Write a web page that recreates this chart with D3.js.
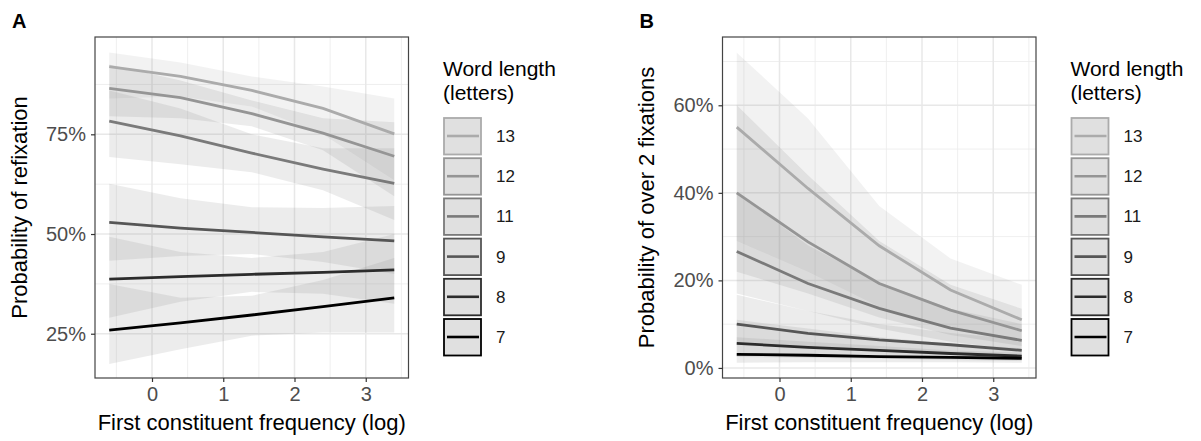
<!DOCTYPE html>
<html>
<head>
<meta charset="utf-8">
<script src="https://cdn.jsdelivr.net/npm/d3@7"></script>
<style>
  body { margin: 0; background: #fff; }
  svg text { font-family: "Liberation Sans", Arial, sans-serif; }
</style>
</head>
<body>
<div id="chart"></div>
<script>
// predicted values at five frequency points, one array per word length
const xPoints = [-0.6, 0.4, 1.4, 2.4, 3.4]
const lengths = ["13", "12", "11", "9", "8", "7"]
const lineColors = ["#ababab", "#959595", "#7a7a7a", "#565656", "#2c2c2c", "#000000"]

// panel A: probability of refixation (%)
const fitA13 = [92.0, 89.5, 86.0, 81.5, 75.1]
const fitA12 = [86.5, 84.2, 80.2, 75.3, 69.5]
const fitA11 = [78.3, 74.6, 70.3, 66.3, 62.7]
const fitA9  = [52.9, 51.5, 50.4, 49.3, 48.3]
const fitA8  = [38.7, 39.3, 39.9, 40.4, 41.0]
const fitA7  = [25.9, 27.7, 29.7, 31.8, 34.0]
const loA13 = [84.0, 84.5, 82.0, 75.0, 63.5], hiA13 = [95.5, 93.0, 89.5, 87.0, 84.0]
const loA12 = [79.5, 79.0, 77.0, 71.0, 59.5], hiA12 = [92.5, 88.5, 83.5, 79.0, 78.0]
const loA11 = [69.3, 67.5, 65.5, 61.0, 53.5], hiA11 = [86.0, 81.5, 75.0, 71.5, 71.5]
const loA9  = [43.3, 44.5, 45.0, 43.0, 40.0], hiA9  = [62.6, 59.0, 56.7, 56.5, 57.0]
const loA8  = [29.0, 33.0, 35.5, 35.0, 32.5], hiA8  = [49.3, 45.5, 44.0, 45.5, 50.0]
const loA7  = [17.4, 21.1, 24.5, 25.3, 25.3], hiA7  = [37.5, 34.0, 34.5, 38.5, 44.0]

// panel B: probability of over 2 fixations (%)
const fitB13 = [55.0, 41.0, 27.9, 17.8, 11.0]
const fitB12 = [40.0, 28.8, 19.3, 13.2, 8.5]
const fitB11 = [26.6, 19.3, 13.6, 9.1, 6.3]
const fitB9  = [10.0, 7.9, 6.4, 5.3, 4.0]
const fitB8  = [5.6, 4.7, 4.0, 3.3, 2.7]
const fitB7  = [3.1, 2.9, 2.6, 2.4, 2.2]
const loB13 = [29.0, 22.0, 14.0, 9.0, 6.0], hiB13 = [72.0, 57.0, 37.0, 25.0, 19.0]
const loB12 = [22.0, 17.0, 11.5, 7.5, 5.0], hiB12 = [60.0, 44.0, 29.0, 19.0, 13.5]
const loB11 = [17.0, 13.0, 9.0, 6.0, 4.0], hiB11 = [40.0, 28.0, 19.5, 13.5, 10.0]
const loB9  = [5.5, 4.5, 4.0, 3.2, 2.5], hiB9  = [16.7, 13.0, 10.0, 8.0, 6.5]
const loB8  = [2.5, 2.3, 2.1, 1.8, 1.6], hiB8  = [11.0, 9.0, 7.0, 5.5, 4.5]
const loB7  = [1.2, 1.3, 1.3, 1.3, 1.2], hiB7  = [7.0, 6.0, 5.0, 4.0, 3.5]

const xTicks = [0, 1, 2, 3]
const xMinor = [-0.5, 0.5, 1.5, 2.5, 3.5]
const yTicksA = [25, 50, 75], yMinorA = [37.5, 62.5, 87.5]
const yTicksB = [0, 20, 40, 60], yMinorB = [10, 30, 50, 70]

const panels = [
    {label: "A", left: 95, ytitle: "Probability of refixation", yDomain: [13.9, 99.4],
     yTicks: yTicksA, yMinor: yMinorA, titleX: 20,
     fits: [fitA13, fitA12, fitA11, fitA9, fitA8, fitA7],
     los: [loA13, loA12, loA11, loA9, loA8, loA7],
     his: [hiA13, hiA12, hiA11, hiA9, hiA8, hiA7]},
    {label: "B", left: 722.5, ytitle: "Probability of over 2 fixations", yDomain: [-2.3, 75.6],
     yTicks: yTicksB, yMinor: yMinorB, titleX: 647,
     fits: [fitB13, fitB12, fitB11, fitB9, fitB8, fitB7],
     los: [loB13, loB12, loB11, loB9, loB8, loB7],
     his: [hiB13, hiB12, hiB11, hiB9, hiB8, hiB7]}
]

const W = 1201, H = 441
const plotTop = 37, plotBottom = 378, pw = 313.5

const svg = d3.select("#chart").append("svg")
    .attr("width", W).attr("height", H)

panels.forEach(p => {
    const x = d3.scaleLinear().domain([-0.8, 3.6]).range([p.left, p.left + pw])
    const y = d3.scaleLinear().domain(p.yDomain).range([plotBottom, plotTop])
    const g = svg.append("g")

    // grid
    g.selectAll(".vminor").data(xMinor).join("line")
        .attr("x1", d => x(d)).attr("x2", d => x(d)).attr("y1", plotTop).attr("y2", plotBottom)
        .attr("stroke", "#ebebeb").attr("stroke-width", 0.8)
    g.selectAll(".hminor").data(p.yMinor).join("line")
        .attr("y1", d => y(d)).attr("y2", d => y(d)).attr("x1", p.left).attr("x2", p.left + pw)
        .attr("stroke", "#ebebeb").attr("stroke-width", 0.8)
    g.selectAll(".vmajor").data(xTicks).join("line")
        .attr("x1", d => x(d)).attr("x2", d => x(d)).attr("y1", plotTop).attr("y2", plotBottom)
        .attr("stroke", "#e8e8e8").attr("stroke-width", 1.5)
    g.selectAll(".hmajor").data(p.yTicks).join("line")
        .attr("y1", d => y(d)).attr("y2", d => y(d)).attr("x1", p.left).attr("x2", p.left + pw)
        .attr("stroke", "#e8e8e8").attr("stroke-width", 1.5)

    // ribbons
    const area = d3.area()
        .x(d => x(d.x)).y0(d => y(d.lo)).y1(d => y(d.hi))
    p.los.forEach((lo, i) => {
        const rows = xPoints.map((xv, j) => ({x: xv, lo: lo[j], hi: p.his[i][j]}))
        g.append("path").datum(rows)
            .attr("d", area)
            .attr("fill", "#808080").attr("fill-opacity", i === 0 ? 0.1 : 0.15)
    })

    // fitted lines
    const line = d3.line().x(d => x(d.x)).y(d => y(d.v))
    p.fits.forEach((f, i) => {
        const rows = xPoints.map((xv, j) => ({x: xv, v: f[j]}))
        g.append("path").datum(rows)
            .attr("d", line)
            .attr("fill", "none")
            .attr("stroke", lineColors[i])
            .attr("stroke-width", 2.8)
    })

    // border
    g.append("rect")
        .attr("x", p.left).attr("y", plotTop).attr("width", pw).attr("height", plotBottom - plotTop)
        .attr("fill", "none").attr("stroke", "#444").attr("stroke-width", 1.2)

    // axes
    const xAxis = g.append("g").attr("transform", `translate(0,${plotBottom})`)
        .call(d3.axisBottom(x).tickValues(xTicks).tickSize(4).tickPadding(5).tickFormat(d3.format("d")))
    const yAxis = g.append("g").attr("transform", `translate(${p.left},0)`)
        .call(d3.axisLeft(y).tickValues(p.yTicks).tickSize(4).tickPadding(5).tickFormat(d => d + "%"))
    ;[xAxis, yAxis].forEach(a => {
        a.select(".domain").remove()
        a.selectAll(".tick line").attr("stroke", "#333").attr("stroke-width", 1.2)
        a.selectAll(".tick text").attr("fill", "#4d4d4d").style("font-size", "20px")
            .style("font-family", "'Liberation Sans', Arial, sans-serif")
    })

    // titles
    g.append("text")
        .attr("x", p.left + pw / 2).attr("y", 430)
        .attr("text-anchor", "middle")
        .style("font-size", "22px").attr("fill", "#000")
        .text("First constituent frequency (log)")
    g.append("text")
        .attr("transform", `translate(${p.titleX + 7},${(plotTop + plotBottom) / 2}) rotate(-90)`)
        .attr("text-anchor", "middle")
        .style("font-size", "22px").attr("fill", "#000")
        .text(p.ytitle)
    g.append("text")
        .attr("x", p.left - 83).attr("y", 28)
        .style("font-size", "20px").style("font-weight", "bold")
        .text(p.label)

    // legend
    const lx = p.left + pw + 34.5
    const lg = g.append("g").attr("transform", `translate(${lx},0)`)
    lg.append("text").attr("x", 0).attr("y", 76).style("font-size", "21px").text("Word length")
    lg.append("text").attr("x", 0).attr("y", 100).style("font-size", "21px").text("(letters)")
    lengths.forEach((len, i) => {
        const ky = 117 + i * 40.2
        lg.append("rect")
            .attr("x", 1).attr("y", ky + 1).attr("width", 37).attr("height", 36.5)
            .attr("fill", "#e0e0e0")
            .attr("stroke", lineColors[i]).attr("stroke-width", 1.8)
        lg.append("line")
            .attr("x1", 4).attr("x2", 36).attr("y1", ky + 19).attr("y2", ky + 19)
            .attr("stroke", lineColors[i]).attr("stroke-width", 2.6)
        lg.append("text")
            .attr("x", 53).attr("y", ky + 19).attr("dy", "0.35em")
            .style("font-size", "17px").attr("fill", "#1a1a1a")
            .text(len)
    })
})
</script>
</body>
</html>
